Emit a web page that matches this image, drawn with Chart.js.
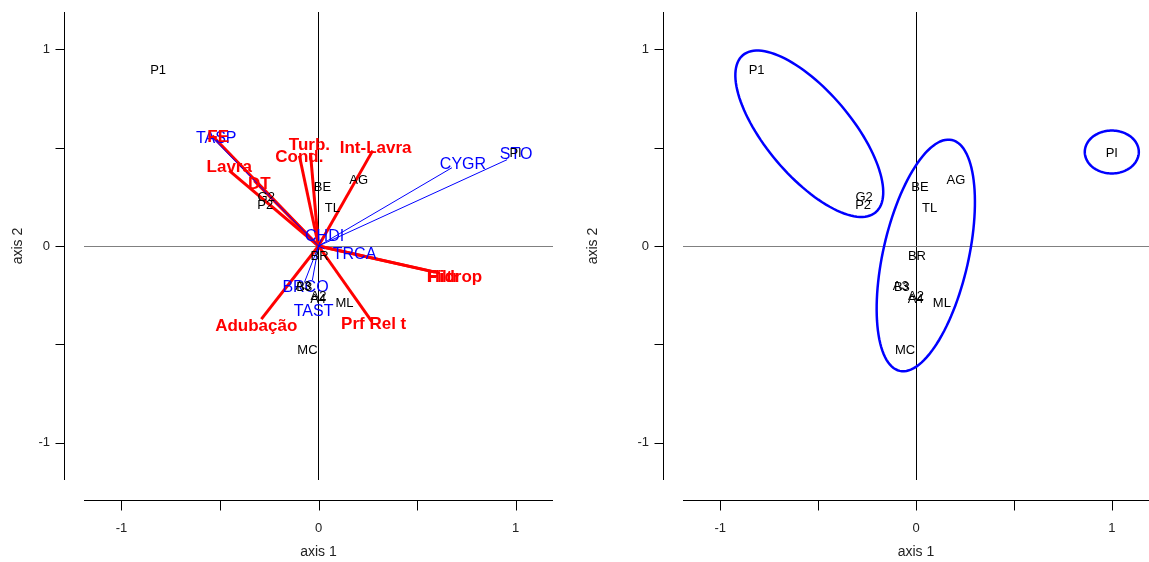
<!DOCTYPE html>
<html>
<head>
<meta charset="utf-8">
<script src="https://cdn.jsdelivr.net/npm/chart.js@4.4.1/dist/chart.umd.min.js"></script>
<style>
  html, body { margin: 0; padding: 0; background: #fff; }
  #left { position: absolute; left: 0; top: 0; width: 575px; height: 562px; }
  #right { position: absolute; left: 575px; top: 0; width: 574px; height: 562px; }
</style>
</head>
<body>
<div id="left"><canvas id="biplot"></canvas></div>
<div id="right"><canvas id="groups"></canvas></div>
<script>
// sample scores (axis 1, axis 2)
const sites = ['P1', 'PI', 'AG', 'BE', 'TL', 'G2', 'P2', 'BR', 'A3', 'B3', 'A2', 'A4', 'ML', 'MC'];
const siteX = [-0.814, 1.0, 0.204, 0.02, 0.07, -0.265, -0.27, 0.005, -0.078, -0.072, 0.0, -0.002, 0.132, -0.056];
const siteY = [0.893, 0.47, 0.332, 0.296, 0.189, 0.245, 0.204, -0.051, -0.205, -0.21, -0.255, -0.273, -0.29, -0.53];

// environmental vectors (red, bold)
const envVars = ['FE', 'Lavra', 'DT', 'Turb.', 'Cond.', 'Int-Lavra', 'Adubação', 'Prf Rel t', 'Filtr', 'Hidrop'];
const envX = [-0.539, -0.453, -0.326, -0.041, -0.097, 0.275, -0.29, 0.27, 0.59, 0.616];
const envY = [0.561, 0.383, 0.332, 0.474, 0.459, 0.485, -0.372, -0.383, -0.133, -0.138];
const envLabelX = [-0.509, -0.453, -0.300, -0.046, -0.097, 0.29, -0.316, 0.28, 0.631, 0.692];
const envLabelY = [0.551, 0.398, 0.316, 0.51, 0.449, 0.495, -0.408, -0.398, -0.158, -0.158];

// species vectors (blue)
const species = ['TASP', 'CYGR', 'STO', 'CHDI', 'TRCA', 'BRCO', 'TAST'];
const spX = [-0.539, 0.677, 0.957, 0.015, 0.03, -0.071, -0.031];
const spY = [0.551, 0.398, 0.439, 0.036, -0.015, -0.184, -0.173];
const spLabelX = [-0.519, 0.733, 1.003, 0.031, 0.183, -0.066, -0.025];
const spLabelY = [0.546, 0.413, 0.464, 0.046, -0.046, -0.209, -0.332];

// group ellipses: centre, semi-axes, rotation in degrees
const ellCx = [-0.545, 0.05, 1.0];
const ellCy = [0.571, -0.048, 0.478];
const ellA = [0.524, 0.602, 0.138];
const ellB = [0.217, 0.218, 0.109];
const ellAngle = [-49.6, 77.2, 0];

const tickValues = [-1, -0.5, 0, 0.5, 1];
const tickLabels = [-1, 0, 1];

const FONT = "'Liberation Sans', Arial, sans-serif";
const RED = '#ff0000';
const BLUE = '#0000ff';

const pts = (xs, ys) => xs.map((x, i) => ({ x: x, y: ys[i] }));

function scaleCfg(title, zeroColor, isY) {
  return {
    type: 'linear',
    min: -1.19,
    max: 1.19,
    grid: {
      drawTicks: true,
      tickLength: isY ? 34 : 41,
      tickColor: 'rgba(0,0,0,0)',
      lineWidth: 1,
      color: c => (c.tick && c.tick.value === 0 ? zeroColor : 'rgba(0,0,0,0)')
    },
    border: { display: false },
    afterBuildTicks: s => { s.ticks = tickValues.map(v => ({ value: v })); },
    ticks: {
      autoSkip: false,
      maxRotation: 0,
      color: '#222',
      font: { family: FONT, size: 13 },
      padding: 0,
      callback: v => (tickLabels.includes(v) ? String(v) : '')
    },
    title: {
      display: true,
      text: title,
      color: '#222',
      font: { family: FONT, size: 14 },
      padding: isY ? { top: 10, bottom: 0 } : { top: 0, bottom: 1 }
    }
  };
}

function makeScales(yWidth) {
  const x = scaleCfg('axis 1', '#000', false);
  x.afterFit = s => { s.height = 82; };
  const y = scaleCfg('axis 2', '#808080', true);
  y.afterFit = s => { s.width = yWidth; };
  return { x: x, y: y };
}

const axisLines = {
  id: 'axisLines',
  afterDraw(chart) {
    const { ctx, chartArea: a } = chart;
    const x = chart.scales.x, y = chart.scales.y;
    const by = Math.round(a.bottom + 20) + 0.5;
    const lx = Math.round(a.left - 20) + 0.5;
    ctx.save();
    ctx.strokeStyle = '#000';
    ctx.lineWidth = 1;
    ctx.beginPath();
    ctx.moveTo(a.left, by);
    ctx.lineTo(a.right, by);
    tickValues.forEach(v => {
      const px = Math.round(x.getPixelForValue(v)) + 0.5;
      ctx.moveTo(px, by);
      ctx.lineTo(px, by + 10);
    });
    ctx.moveTo(lx, a.top);
    ctx.lineTo(lx, a.bottom);
    tickValues.forEach(v => {
      const py = Math.round(y.getPixelForValue(v)) + 0.5;
      ctx.moveTo(lx, py);
      ctx.lineTo(lx - 9, py);
    });
    ctx.stroke();
    ctx.restore();
  }
};

const textLabels = {
  id: 'textLabels',
  afterDatasetsDraw(chart) {
    const ctx = chart.ctx;
    chart.data.datasets.forEach((ds, i) => {
      if (!ds.texts) return;
      const meta = chart.getDatasetMeta(i);
      ctx.save();
      ctx.font = ds.textFont;
      ctx.fillStyle = ds.textColor;
      ctx.textAlign = 'center';
      ctx.textBaseline = 'middle';
      meta.data.forEach((el, j) => ctx.fillText(ds.texts[j], el.x, el.y));
      ctx.restore();
    });
  }
};

const ellipses = {
  id: 'ellipses',
  afterDatasetsDraw(chart) {
    const { ctx } = chart;
    const x = chart.scales.x, y = chart.scales.y;
    ctx.save();
    ctx.strokeStyle = BLUE;
    ctx.lineWidth = 2.5;
    ellCx.forEach((cx, k) => {
      const t = ellAngle[k] * Math.PI / 180;
      ctx.beginPath();
      for (let s = 0; s <= 120; s++) {
        const f = s / 120 * 2 * Math.PI;
        const ex = cx + ellA[k] * Math.cos(f) * Math.cos(t) - ellB[k] * Math.sin(f) * Math.sin(t);
        const ey = ellCy[k] + ellA[k] * Math.cos(f) * Math.sin(t) + ellB[k] * Math.sin(f) * Math.cos(t);
        const px = x.getPixelForValue(ex), py = y.getPixelForValue(ey);
        if (s === 0) ctx.moveTo(px, py); else ctx.lineTo(px, py);
      }
      ctx.closePath();
      ctx.stroke();
    });
    ctx.restore();
  }
};

function labelSet(names, xs, ys, font, color) {
  return {
    type: 'scatter',
    data: pts(xs, ys),
    texts: names,
    textFont: font,
    textColor: color,
    pointRadius: 0,
    pointHoverRadius: 0
  };
}

function vectorSet(x, y, color, width) {
  return {
    type: 'scatter',
    data: [{ x: 0, y: 0 }, { x: x, y: y }],
    showLine: true,
    borderColor: color,
    borderWidth: width,
    pointRadius: 0,
    pointHoverRadius: 0
  };
}

const commonOpts = {
  responsive: true,
  maintainAspectRatio: false,
  animation: false,
  events: [],
  plugins: { legend: { display: false }, tooltip: { enabled: false } }
};

// left: biplot with vectors
const leftSets = [
  labelSet(species, spLabelX, spLabelY, '16px ' + FONT, BLUE),
  labelSet(envVars, envLabelX, envLabelY, 'bold 17px ' + FONT, RED),
  labelSet(sites, siteX, siteY, '13px ' + FONT, '#000')
]
  .concat(species.map((n, i) => vectorSet(spX[i], spY[i], BLUE, 1)))
  .concat(envVars.map((n, i) => vectorSet(envX[i], envY[i], RED, 3)));

new Chart(document.getElementById('biplot'), {
  type: 'scatter',
  data: { datasets: leftSets },
  options: Object.assign({}, commonOpts, {
    layout: { padding: { left: 0, right: 22, top: 12, bottom: 0 } },
    scales: makeScales(84)
  }),
  plugins: [axisLines, textLabels]
});

// right: sample groups
new Chart(document.getElementById('groups'), {
  type: 'scatter',
  data: { datasets: [labelSet(sites, siteX, siteY, '13px ' + FONT, '#000')] },
  options: Object.assign({}, commonOpts, {
    layout: { padding: { left: 0, right: 0, top: 12, bottom: 0 } },
    scales: makeScales(108)
  }),
  plugins: [axisLines, ellipses, textLabels]
});
</script>
</body>
</html>
